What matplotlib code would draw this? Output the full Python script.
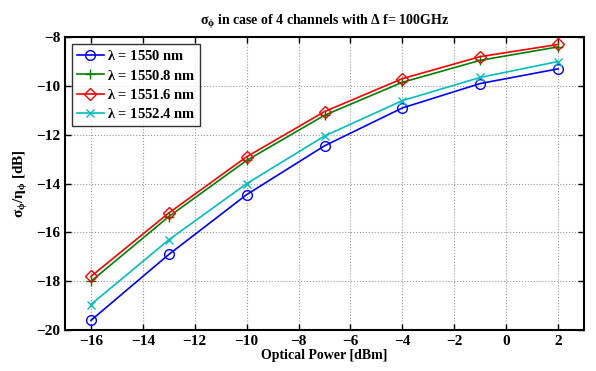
import matplotlib
matplotlib.use('Agg')
import matplotlib.pyplot as plt

plt.rcParams['font.family'] = ['Liberation Serif', 'DejaVu Serif']
plt.rcParams['font.weight'] = 'bold'
plt.rcParams['mathtext.fontset'] = 'custom'
plt.rcParams['mathtext.rm'] = 'Liberation Serif:bold'
plt.rcParams['mathtext.it'] = 'Liberation Serif:bold'
plt.rcParams['mathtext.bf'] = 'Liberation Serif:bold'

power = [-16, -13, -10, -7, -4, -1, 2]
s1550 = [-19.6, -16.9, -14.45, -12.45, -10.9, -9.9, -9.3]
s1550_8 = [-18.0, -15.35, -13.05, -11.2, -9.85, -8.95, -8.4]
s1551_6 = [-17.8, -15.2, -12.9, -11.05, -9.7, -8.8, -8.3]
s1552_4 = [-18.95, -16.3, -14.0, -12.05, -10.6, -9.65, -9.0]

fig = plt.figure(figsize=(5.96, 3.71), dpi=100)
ax = fig.add_axes([0.109, 0.110, 0.871, 0.790])

ax.plot(power, s1550, color='blue', marker='o', ms=7, mfc='none', lw=1.2, label=r'$\lambda$ = 1550 nm')
ax.plot(power, s1550_8, color='green', marker='+', ms=7, lw=1.2, label=r'$\lambda$ = 1550.8 nm')
ax.plot(power, s1551_6, color='red', marker='D', ms=6, mfc='none', lw=1.2, label=r'$\lambda$ = 1551.6 nm')
ax.plot(power, s1552_4, color='c', marker='x', ms=6, lw=1.2, label=r'$\lambda$ = 1552.4 nm')

ax.set_xlim(-17, 3)
ax.set_ylim(-20, -8)
ax.set_xticks(range(-16, 3, 2))
ax.set_yticks(range(-20, -7, 2))
ax.grid(True, linestyle=':', color='#999999', lw=0.8)
ax.tick_params(direction='in', top=True, right=True, labelsize=11, width=1, length=4)
for sp in ax.spines.values():
    sp.set_linewidth(1.5)

ax.set_xlabel('Optical Power [dBm]', fontsize=10, fontweight='bold', labelpad=1)
ax.set_ylabel(r'$\sigma_\phi/\eta_\phi$ [dB]', fontsize=11, fontweight='bold')
ax.set_title(r'$\sigma_\phi$ in case of 4 channels with $\Delta$ f= 100GHz', fontsize=10, fontweight='bold', pad=9)

leg = ax.legend(loc='upper left', fontsize=10.5, fancybox=False, edgecolor='black',
                handlelength=1.8, borderpad=0.35, labelspacing=0.35, handletextpad=0.2,
                borderaxespad=0.5)
leg.get_frame().set_linewidth(1.0)

fig.savefig('out.png', dpi=100)
